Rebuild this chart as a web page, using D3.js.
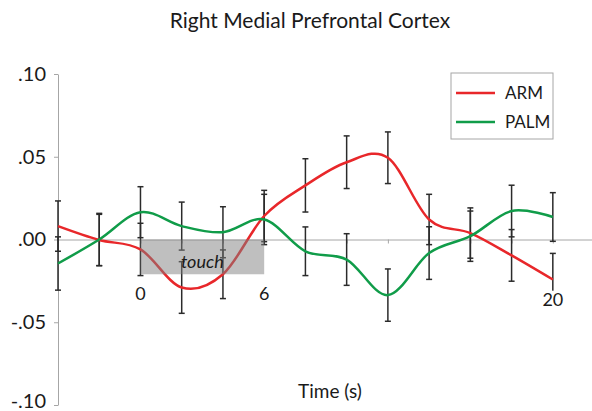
<!DOCTYPE html>
<meta charset="utf-8">
<head>
    <meta charset="utf-8">
    <title>Right Medial Prefrontal Cortex</title>
    <script src="https://d3js.org/d3.v7.min.js" charset="utf-8"></script>
    <style>
        html, body {
            margin: 0;
            padding: 0;
            background: #fff;
        }
        text {
            font-family: Lato, "Open Sans", sans-serif;
            fill: #1a1a1a;
        }
        .axis path, .axis line {
            stroke: #a6a6a6;
            stroke-width: 1px;
        }
        .line {
            fill: none;
            stroke-width: 2.5px;
        }
        .err {
            stroke: #2b2b2b;
            stroke-width: 1.5px;
        }
    </style>
</head>
<body>
<div class="chart"></div>
<script>

/****************************
1. データ
****************************/
var times = [-4, -2, 0, 2, 4, 6, 8, 10, 12, 14, 16, 18, 20];

var armMean = [0.0081, -0.0003, -0.0060, -0.0290, -0.0210, 0.0142, 0.0327, 0.0467, 0.0494, 0.0121, 0.0039, -0.0096, -0.0242];
var armErr  = [0.0152, 0.0155, 0.0158, 0.0156, 0.0147, 0.0155, 0.0161, 0.0159, 0.0156, 0.0152, 0.0152, 0.0156, 0.0158];

var palmMean = [-0.0145, 0.0000, 0.0165, 0.0081, 0.0044, 0.0121, -0.0071, -0.0121, -0.0336, -0.0082, 0.0020, 0.0172, 0.0136];
var palmErr  = [0.0161, 0.0158, 0.0154, 0.0145, 0.0154, 0.0152, 0.0147, 0.0156, 0.0158, 0.0159, 0.0152, 0.0156, 0.0147];

var yTicks = [0.10, 0.05, 0.00, -0.05, -0.10];
var timeLabels = [0, 6, 20];
var touchWindow = [0, 6];
var touchDepth = -0.021;

var seriesNames = ["ARM", "PALM"];
var seriesColors = ["#e8272a", "#109c49"];

var series = [
    {id: "ARM", values: times.map((t, i) => ({t: t, v: armMean[i], e: armErr[i]}))},
    {id: "PALM", values: times.map((t, i) => ({t: t, v: palmMean[i], e: palmErr[i]}))}
];

/****************************
2. svg コンテナ
****************************/
var width = 592, height = 411;

const svg = d3.select(".chart")
    .append("svg")
    .attr("width", width)
    .attr("height", height);

var xScale = d3.scaleLinear()
    .domain([-4, 21.9])
    .range([58, 592]);

var yScale = d3.scaleLinear()
    .domain([-0.10, 0.10])
    .range([405, 74]);

var color = d3.scaleOrdinal()
    .domain(seriesNames)
    .range(seriesColors);

var line = d3.line()
    .curve(d3.curveCardinal.tension(0))
    .x(d => xScale(d.t))
    .y(d => yScale(d.v));

/****************************
3. 軸
****************************/
// y 軸 (.10 形式)
var fmt = d => {
    var s = d3.format(".2f")(Math.abs(d)).replace(/^0/, "");
    return (d < -1e-9 ? "-" : "") + s;
};

svg.append("g")
    .attr("class", "axis y-axis")
    .attr("transform", "translate(" + xScale(-4) + ",0)")
    .call(d3.axisLeft(yScale).tickValues(yTicks).tickFormat(fmt).tickSize(4).tickSizeOuter(0))
    .call(g => g.selectAll("text")
        .attr("x", -12)
        .attr("y", d => d <= -0.1 ? -4 : 0)   // 一番下は画面内に収める
        .style("font-size", "20px"));

// x 軸 (0 の位置)
svg.append("g")
    .attr("class", "axis x-axis")
    .attr("transform", "translate(0," + yScale(0) + ")")
    .call(d3.axisBottom(xScale).tickValues(times).tickFormat("").tickSize(4).tickSizeOuter(0));

/****************************
4. 誤差棒と線
****************************/
var bars = svg.selectAll(".errs")
    .data(series)
    .enter()
    .append("g")
    .attr("class", "errs");

bars.selectAll(".err-v")
    .data(d => d.values)
    .enter()
    .append("line")
    .attr("class", "err")
    .attr("x1", d => xScale(d.t))
    .attr("x2", d => xScale(d.t))
    .attr("y1", d => yScale(d.v + d.e))
    .attr("y2", d => yScale(d.v - d.e));

// キャップ
[1, -1].forEach(function(sign) {
    bars.selectAll(".cap" + sign)
        .data(d => d.values)
        .enter()
        .append("line")
        .attr("class", "err")
        .attr("x1", d => xScale(d.t) - 3)
        .attr("x2", d => xScale(d.t) + 3)
        .attr("y1", d => yScale(d.v + sign * d.e))
        .attr("y2", d => yScale(d.v + sign * d.e));
});

svg.selectAll(".series")
    .data(series)
    .enter()
    .append("path")
    .attr("class", "line")
    .style("stroke", d => color(d.id))
    .attr("d", d => line(d.values));

// touch の区間 (半透明のグレー)
svg.append("rect")
    .attr("x", xScale(touchWindow[0]))
    .attr("y", yScale(0))
    .attr("width", xScale(touchWindow[1]) - xScale(touchWindow[0]))
    .attr("height", yScale(touchDepth) - yScale(0))
    .attr("fill", "#7f7f7f")
    .attr("fill-opacity", 0.5);

svg.append("text")
    .attr("x", (xScale(touchWindow[0]) + xScale(touchWindow[1])) / 2)
    .attr("y", yScale(touchDepth) - 6)
    .attr("text-anchor", "middle")
    .style("font-size", "18px")
    .style("font-style", "italic")
    .text("touch");

// 時間ラベル
var tl = svg.selectAll(".tlab")
    .data(timeLabels)
    .enter()
    .append("g");

tl.append("rect")
    .attr("x", d => xScale(d) - 12)
    .attr("y", d => (d === 20 ? yScale(-0.040) : yScale(-0.0365)) - 15)
    .attr("width", 24)
    .attr("height", 19)
    .attr("fill", "#fff");

tl.append("text")
    .attr("x", d => xScale(d))
    .attr("y", d => d === 20 ? yScale(-0.040) : yScale(-0.0365))
    .attr("text-anchor", "middle")
    .style("font-size", "18px")
    .text(d => d);

/****************************
5. タイトル・凡例
****************************/
svg.append("text")
    .attr("x", 310)
    .attr("y", 28)
    .attr("text-anchor", "middle")
    .style("font-size", "21px")
    .text("Right Medial Prefrontal Cortex");

svg.append("text")
    .attr("x", 330)
    .attr("y", 398)
    .attr("text-anchor", "middle")
    .style("font-size", "19px")
    .text("Time (s)");

var legend = svg.append("g")
    .attr("transform", "translate(451,73)");

legend.append("rect")
    .attr("width", 102)
    .attr("height", 66)
    .attr("fill", "#fff")
    .attr("stroke", "#a6a6a6");

var li = legend.selectAll(".li")
    .data(seriesNames)
    .enter()
    .append("g")
    .attr("transform", (d, i) => "translate(0," + (20 + i * 29) + ")");

li.append("line")
    .attr("x1", 5)
    .attr("x2", 44)
    .attr("stroke", d => color(d))
    .attr("stroke-width", 2.5);

li.append("text")
    .attr("x", 54)
    .attr("y", 6)
    .style("font-size", "17px")
    .text(d => d);

</script>
</body>
